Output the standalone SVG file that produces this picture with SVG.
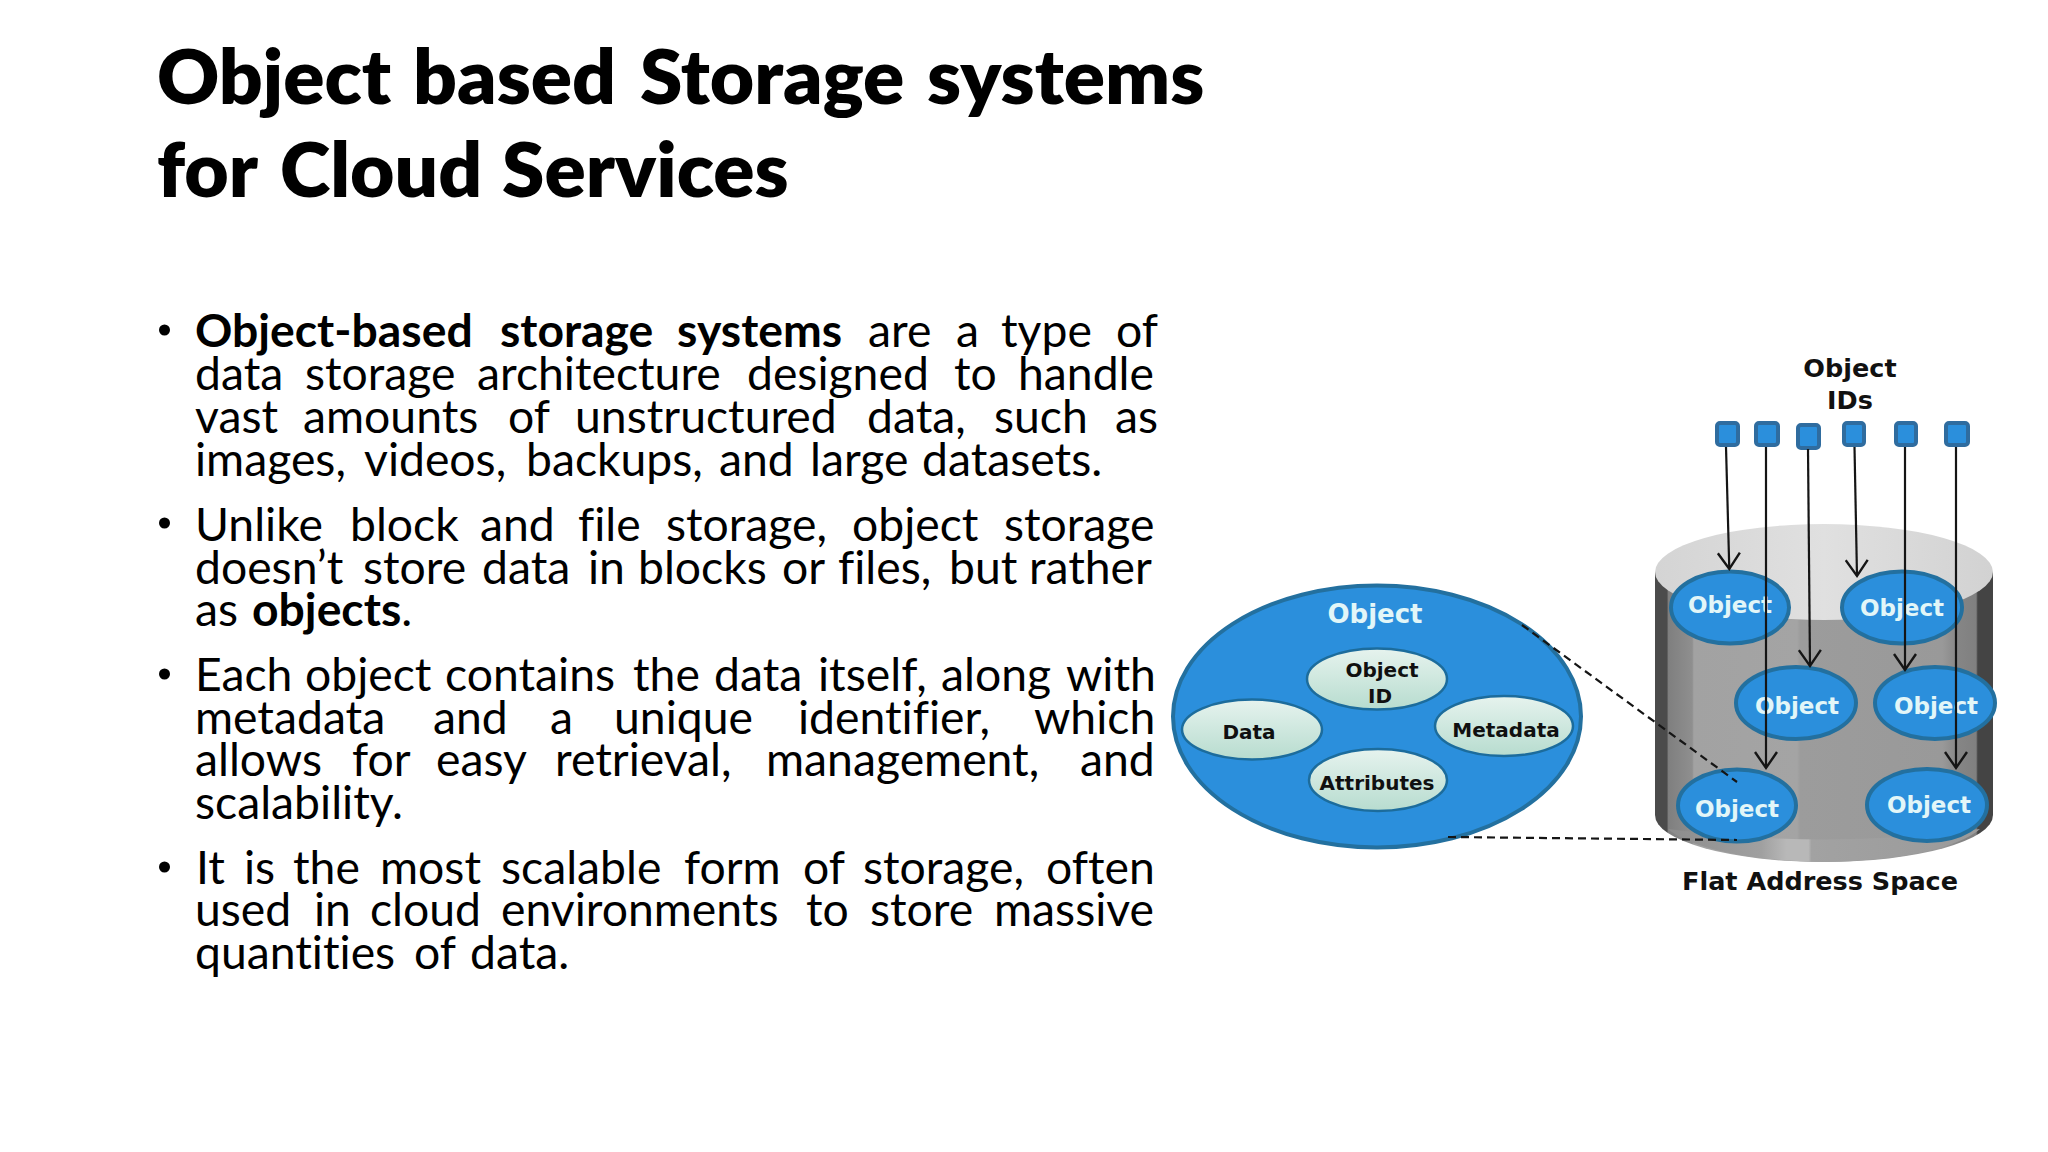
<svg xmlns="http://www.w3.org/2000/svg" width="2048" height="1152" viewBox="0 0 2048 1152">
<style>
.t{font-family:Lato,"Open Sans","Noto Sans",sans-serif;font-size:76.6px;font-weight:800;fill:#000;font-variant-ligatures:none}
.b{font-family:Lato,"Open Sans","Noto Sans",sans-serif;font-size:46.3px;fill:#000;font-variant-ligatures:none}
.bb{font-weight:700}
.d{font-family:"DejaVu Sans",Verdana,sans-serif;font-weight:700;text-anchor:middle}
.w{fill:#e2f6f8;font-size:23px}
.k{fill:#101010;font-size:20px}
.l{fill:#111;font-size:25.5px}
.blue{fill:#2b8fdc;stroke:#23709f;stroke-width:4}
.in{fill:url(#mint);stroke:#1c6c9c;stroke-width:2.5}
.sq{fill:#2b8fdc;stroke:#2f6c9f;stroke-width:4}
.a{stroke:#151515;stroke-width:2.2;fill:none;marker-end:url(#v)}
.ds{stroke:#151515;stroke-width:2.2;fill:none;stroke-dasharray:8 5}
</style>
<defs>
<marker id="v" markerUnits="userSpaceOnUse" markerWidth="26" markerHeight="24" refX="22" refY="12" orient="auto"><path d="M6 1L22 12L6 23" fill="none" stroke="#151515" stroke-width="2.4"/></marker>
<linearGradient id="mint" x1="0" y1="0" x2="0" y2="1"><stop offset="0" stop-color="#e6f3ee"/><stop offset="1" stop-color="#b7dccf"/></linearGradient>
<linearGradient id="cyl" x1="0" y1="0" x2="1" y2="0">
<stop offset="0" stop-color="#4b4b4b"/><stop offset=".035" stop-color="#4b4b4b"/><stop offset=".04" stop-color="#7f7f7f"/><stop offset=".11" stop-color="#8f8f8f"/><stop offset=".115" stop-color="#a2a2a2"/><stop offset=".42" stop-color="#a4a4a4"/><stop offset=".43" stop-color="#9c9c9c"/><stop offset=".85" stop-color="#999"/><stop offset=".9" stop-color="#858585"/><stop offset=".95" stop-color="#808080"/><stop offset=".955" stop-color="#444"/><stop offset="1" stop-color="#444"/>
</linearGradient>
<linearGradient id="top" x1="0" y1="0" x2="1" y2="0"><stop offset="0" stop-color="#d4d4d4"/><stop offset=".5" stop-color="#e0e0e0"/><stop offset="1" stop-color="#d2d2d2"/></linearGradient>
<linearGradient id="rim" x1="0" y1="0" x2="1" y2="0"><stop offset="0" stop-color="#8c8c8c"/><stop offset=".3" stop-color="#a0a0a0"/><stop offset=".38" stop-color="#b8b8b8"/><stop offset=".45" stop-color="#b8b8b8"/><stop offset=".46" stop-color="#a2a2a2"/><stop offset="1" stop-color="#9a9a9a"/></linearGradient>
</defs>
<rect width="2048" height="1152" fill="#fff"/>
<g id="title" transform="translate(0,1)">
<text class="t" y="103"><tspan x="157">Object </tspan><tspan x="413">based </tspan><tspan x="640">Storage </tspan><tspan x="927">systems</tspan></text>
<text class="t" y="196"><tspan x="157">for </tspan><tspan x="280">Cloud </tspan><tspan x="502">Services</tspan></text>
</g>
<g id="body" transform="translate(-1,1)">
<circle cx="165.5" cy="329" r="5.5"/><circle cx="165.5" cy="522" r="5.5"/><circle cx="165.5" cy="673" r="5.5"/><circle cx="165.5" cy="866" r="5.5"/>
<text class="b" y="346"><tspan class="bb" x="196">Object-based </tspan><tspan class="bb" x="501">storage </tspan><tspan class="bb" x="678">systems </tspan><tspan x="869">are </tspan><tspan x="957">a </tspan><tspan x="1002">type </tspan><tspan x="1117">of</tspan></text>
<text class="b" y="389"><tspan x="196">data </tspan><tspan x="306">storage </tspan><tspan x="478">architecture </tspan><tspan x="748">designed </tspan><tspan x="955">to </tspan><tspan x="1019">handle</tspan></text>
<text class="b" y="432"><tspan x="196">vast </tspan><tspan x="304">amounts </tspan><tspan x="509">of </tspan><tspan x="576">unstructured </tspan><tspan x="868">data, </tspan><tspan x="995">such </tspan><tspan x="1116">as</tspan></text>
<text class="b" y="475"><tspan x="196">images, </tspan><tspan x="365">videos, </tspan><tspan x="527">backups, </tspan><tspan x="720">and </tspan><tspan x="811">large </tspan><tspan x="923">datasets.</tspan></text>
<text class="b" y="540"><tspan x="196">Unlike </tspan><tspan x="351">block </tspan><tspan x="481">and </tspan><tspan x="579">file </tspan><tspan x="667">storage, </tspan><tspan x="853">object </tspan><tspan x="1005">storage</tspan></text>
<text class="b" y="583"><tspan x="196">doesn’t </tspan><tspan x="364">store </tspan><tspan x="483">data </tspan><tspan x="589">in </tspan><tspan x="639">blocks </tspan><tspan x="783">or </tspan><tspan x="839">files, </tspan><tspan x="950">but </tspan><tspan x="1030">rather</tspan></text>
<text class="b" y="625"><tspan x="196">as </tspan><tspan class="bb" x="253">objects</tspan><tspan>.</tspan></text>
<text class="b" y="690"><tspan x="196">Each </tspan><tspan x="306">object </tspan><tspan x="446">contains </tspan><tspan x="634">the </tspan><tspan x="715">data </tspan><tspan x="819">itself, </tspan><tspan x="942">along </tspan><tspan x="1067">with</tspan></text>
<text class="b" y="733"><tspan x="196">metadata </tspan><tspan x="434">and </tspan><tspan x="551">a </tspan><tspan x="615">unique </tspan><tspan x="799">identifier, </tspan><tspan x="1035">which</tspan></text>
<text class="b" y="775"><tspan x="196">allows </tspan><tspan x="353">for </tspan><tspan x="437">easy </tspan><tspan x="556">retrieval, </tspan><tspan x="767">management, </tspan><tspan x="1081">and</tspan></text>
<text class="b" y="818" x="196">scalability.</text>
<text class="b" y="883"><tspan x="197">It </tspan><tspan x="245">is </tspan><tspan x="294">the </tspan><tspan x="381">most </tspan><tspan x="502">scalable </tspan><tspan x="685">form </tspan><tspan x="804">of </tspan><tspan x="864">storage, </tspan><tspan x="1047">often</tspan></text>
<text class="b" y="925"><tspan x="196">used </tspan><tspan x="315">in </tspan><tspan x="371">cloud </tspan><tspan x="502">environments </tspan><tspan x="807">to </tspan><tspan x="871">store </tspan><tspan x="995">massive</tspan></text>
<text class="b" y="968"><tspan x="196">quantities </tspan><tspan x="415">of </tspan><tspan x="471">data.</tspan></text>
</g>
<g id="object-detail">
<ellipse class="blue" cx="1377" cy="716.5" rx="204" ry="131"/>
<text class="d w" style="font-size:26px" x="1375" y="623">Object</text>
</g>
<g id="object-id"><ellipse class="in" cx="1377" cy="679" rx="70" ry="30.5"/><text class="d k" x="1382" y="677">Object</text><text class="d k" x="1380" y="703">ID</text></g>
<g id="data"><ellipse class="in" cx="1252" cy="729.5" rx="70" ry="30"/><text class="d k" x="1249" y="739">Data</text></g>
<g id="metadata"><ellipse class="in" cx="1504" cy="726" rx="69" ry="30"/><text class="d k" x="1506" y="737">Metadata</text></g>
<g id="attributes"><ellipse class="in" cx="1378" cy="780" rx="69" ry="31"/><text class="d k" x="1377" y="790">Attributes</text></g>
<g id="cylinder">
<path d="M1655 572V815A169 47 0 0 0 1993 815V572Z" fill="url(#cyl)"/>
<path d="M1668 829Q1824 850 1980 829A169 47 0 0 1 1824 862A169 47 0 0 1 1668 829Z" fill="url(#rim)"/>
<ellipse cx="1824" cy="572" rx="169" ry="48" fill="url(#top)"/>
</g>
<g id="object-1"><ellipse class="blue" cx="1730" cy="607.5" rx="59" ry="36"/><text class="d w" x="1730" y="613">Object</text></g>
<g id="object-2"><ellipse class="blue" cx="1902" cy="607.5" rx="60" ry="36"/><text class="d w" x="1902" y="616">Object</text></g>
<g id="object-3"><ellipse class="blue" cx="1796" cy="703" rx="60" ry="36"/><text class="d w" x="1797" y="714">Object</text></g>
<g id="object-4"><ellipse class="blue" cx="1935" cy="703" rx="60" ry="36"/><text class="d w" x="1936" y="714">Object</text></g>
<g id="object-5"><ellipse class="blue" cx="1737" cy="805.5" rx="59" ry="36"/><text class="d w" x="1737" y="817">Object</text></g>
<g id="object-6"><ellipse class="blue" cx="1927" cy="805" rx="60" ry="36"/><text class="d w" x="1929" y="813">Object</text></g>
<g id="ids">
<text class="d l" x="1850" y="377">Object</text><text class="d l" x="1850" y="409">IDs</text>
<rect class="sq" x="1717" y="423" width="21" height="22" rx="3"/>
<rect class="sq" x="1756" y="423" width="22" height="22" rx="3"/>
<rect class="sq" x="1798" y="425" width="21" height="23" rx="3"/>
<rect class="sq" x="1844" y="423" width="20" height="22" rx="3"/>
<rect class="sq" x="1896" y="423" width="20" height="22" rx="3"/>
<rect class="sq" x="1946" y="423" width="22" height="22" rx="3"/>
</g>
<text class="d l" x="1820" y="890">Flat Address Space</text>
<g id="connectors">
<path class="a" d="M1726 447L1729.3 569"/>
<path class="a" d="M1766 447V768"/>
<path class="a" d="M1808 449L1810 666"/>
<path class="a" d="M1854.5 447L1857 576"/>
<path class="a" d="M1905 447V670"/>
<path class="a" d="M1956 447V768"/>
<path class="ds" d="M1522 625L1737 782"/>
<path class="ds" d="M1448 837L1737 840"/>
</g>
</svg>
